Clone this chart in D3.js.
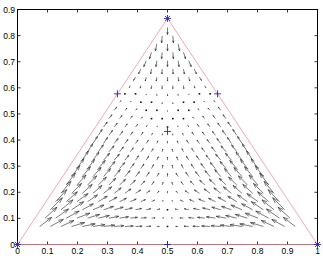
<!DOCTYPE html>
<html>
<head>
<meta charset="utf-8">
<script src="https://cdn.jsdelivr.net/npm/d3@7"></script>
<style>
  body { margin: 0; background: #fff; }
  svg { display: block; }
  text { font-family: "Liberation Sans", Arial, sans-serif; font-size: 8.5px; fill: #000; }
</style>
</head>
<body>
<svg id="chart" width="323" height="268"></svg>
<script>
// ticks
const xTicks = [0, 0.1, 0.2, 0.3, 0.4, 0.5, 0.6, 0.7, 0.8, 0.9, 1];
const yTicks = [0, 0.1, 0.2, 0.3, 0.4, 0.5, 0.6, 0.7, 0.8, 0.9];

// simplex outline and marked rest points
const simplex = [[0, 0], [1, 0], [0.5, 0.866]];
const restPoints = [[0, 0], [1, 0], [0.5, 0.866], [0.5, 0], [0.333, 0.577], [0.667, 0.577], [0.5, 0.433]];
const vertexPoints = [[0, 0], [1, 0], [0.5, 0.866]];

// quiver grid: one row per y, points centred on x = 0.5
const rowY = [0.069, 0.101, 0.133, 0.164, 0.196, 0.228, 0.260, 0.291, 0.323, 0.355, 0.387, 0.418, 0.450,
              0.482, 0.514, 0.545, 0.577, 0.609, 0.641, 0.672, 0.704, 0.736, 0.768, 0.799, 0.831];
const rowCount = [25, 24, 23, 22, 21, 20, 19, 18, 17, 16, 15, 14, 13, 12, 11, 10, 9, 8, 7, 6, 5, 4, 3, 2, 1];
const colStep = 0.0355;

// arrows (u, v) in hundredths, left half of each row up to the centre; right half is the mirror image
const rowVectors = [
  [[4.0,3.5],[4.3,2.7],[4.3,2.3],[4.3,1.5],[4.3,1.0],[4.0,0.7],[3.7,0.5],[3.2,0.3],[2.8,0.2],[2.2,0.1],[1.6,0.1],[0.8,0],[0,0]],
  [[4.0,4.2],[4.3,3.5],[4.3,2.7],[4.3,1.9],[4.0,1.4],[3.7,1.0],[3.3,0.7],[3.0,0.5],[2.4,0.3],[1.8,0.2],[1.2,0.1],[0.5,0.1]],
  [[4.0,4.6],[4.0,3.8],[4.0,3.1],[3.7,2.3],[3.7,1.8],[3.3,1.3],[3.0,1.0],[2.5,0.7],[2.0,0.5],[1.5,0.4],[1.0,0.3],[0,0.3]],
  [[3.7,4.6],[3.7,3.8],[3.7,3.1],[3.3,2.6],[3.0,2.1],[2.7,1.7],[2.3,1.3],[2.0,1.0],[1.5,0.8],[1.0,0.6],[0.3,0.5]],
  [[3.3,4.6],[3.3,3.8],[3.3,3.4],[3.0,3.0],[2.7,2.5],[2.3,2.1],[2.0,1.7],[1.7,1.3],[1.2,1.0],[0.7,0.8],[0,0.7]],
  [[3.0,4.6],[3.0,3.8],[3.0,3.5],[2.7,3.0],[2.3,2.6],[2.0,2.2],[1.7,1.8],[1.3,1.5],[0.8,1.2],[0.3,1.0]],
  [[2.7,4.2],[2.7,3.8],[2.7,3.5],[2.3,3.1],[2.0,2.7],[1.7,2.3],[1.3,1.9],[1.0,1.6],[0.7,1.3],[0,1.2]],
  [[2.3,3.8],[2.3,3.5],[2.3,3.1],[2.0,2.7],[1.7,2.3],[1.3,1.9],[1.0,1.7],[0.7,1.5],[0.2,1.3]],
  [[2.0,3.5],[2.0,3.1],[2.0,2.7],[1.7,2.3],[1.3,1.9],[1.0,1.7],[0.8,1.5],[0.5,1.3],[0,1.2]],
  [[1.7,3.1],[1.7,2.7],[1.7,2.3],[1.3,1.9],[1.0,1.5],[0.8,1.3],[0.5,1.2],[0.2,1.0]],
  [[1.5,2.7],[1.3,2.3],[1.3,1.9],[1.0,1.5],[0.8,1.3],[0.7,1.2],[0.3,1.0],[0,0.8]],
  [[1.3,2.3],[1.2,1.9],[1.0,1.5],[0.8,1.3],[0.7,1.2],[0.3,0.8],[0.1,0.6]],
  [[1.2,1.9],[1.0,1.5],[0.8,1.2],[0.7,1.0],[0.3,0.6],[0.2,0.4],[0,0.1]],
  [[1.0,1.5],[0.8,1.2],[0.7,1.0],[0.5,0.6],[0.2,0.2],[0,-0.2]],
  [[0.8,1.2],[0.7,0.8],[0.5,0.6],[0.2,0.2],[0,-0.2],[0,-0.4]],
  [[0.5,0.6],[0.3,0.4],[0.1,0],[-0.1,-0.3],[0,-0.6]],
  [[0.1,0],[0,-0.2],[0,-0.4],[0,-0.6],[0,-0.8]],
  [[-0.3,-0.8],[-0.2,-1.0],[-0.1,-1.2],[0,-1.2]],
  [[-0.7,-1.3],[-0.3,-1.5],[-0.2,-1.5],[0,-1.5]],
  [[-0.8,-1.9],[-0.3,-1.9],[-0.1,-1.9]],
  [[-0.8,-2.3],[-0.3,-2.3],[0,-2.3]],
  [[-0.7,-2.5],[-0.2,-2.5]],
  [[-0.5,-2.7],[0,-2.7]],
  [[-0.2,-2.7]],
  [[0,-2.7]]
];

const width = 323, height = 268;
const margin = {top: 9.5, right: 5.5, bottom: 23.5, left: 17.5};

const svg = d3.select("#chart");
const x = d3.scaleLinear().domain([0, 1]).range([margin.left, width - margin.right]);
const y = d3.scaleLinear().domain([0, 0.9]).range([height - margin.bottom, margin.top]);

// build arrow list
const arrows = [];
rowY.forEach((yy, r) => {
  const n = rowCount[r];
  for (let j = 0; j < n; j++) {
    const xx = 0.5 + (j - (n - 1) / 2) * colStep;
    const left = j < Math.ceil(n / 2);
    const vec = rowVectors[r][left ? j : n - 1 - j];
    arrows.push({x: xx, y: yy, u: (left ? vec[0] : -vec[0]) / 100, v: vec[1] / 100});
  }
});

// axes box
svg.append("rect")
    .attr("x", x(0)).attr("y", y(0.9))
    .attr("width", x(1) - x(0)).attr("height", y(0) - y(0.9))
    .attr("fill", "none").attr("stroke", "#000").attr("stroke-width", 1);

const tickLen = 3;
const ticks = svg.append("g").attr("stroke", "#000").attr("stroke-width", 0.8);
xTicks.forEach(t => {
  ticks.append("line").attr("x1", x(t)).attr("x2", x(t)).attr("y1", y(0)).attr("y2", y(0) - tickLen);
  ticks.append("line").attr("x1", x(t)).attr("x2", x(t)).attr("y1", y(0.9)).attr("y2", y(0.9) + tickLen);
});
yTicks.forEach(t => {
  ticks.append("line").attr("x1", x(0)).attr("x2", x(0) + tickLen).attr("y1", y(t)).attr("y2", y(t));
  ticks.append("line").attr("x1", x(1)).attr("x2", x(1) - tickLen).attr("y1", y(t)).attr("y2", y(t));
});

svg.append("g").selectAll("text")
  .data(xTicks).join("text")
    .attr("x", d => x(d)).attr("y", y(0) + 9.5)
    .attr("text-anchor", "middle")
    .text(d => d3.format("~g")(d));

svg.append("g").selectAll("text")
  .data(yTicks).join("text")
    .attr("x", x(0) - 2.5).attr("y", d => y(d) + 3)
    .attr("text-anchor", "end")
    .text(d => d3.format("~g")(d));

// simplex edges
svg.append("path")
    .attr("d", d3.line().x(d => x(d[0])).y(d => y(d[1]))(simplex.concat([simplex[0]])))
    .attr("fill", "none").attr("stroke", "#f2909f").attr("stroke-width", 0.8);

// quiver
const q = svg.append("g").attr("stroke", "#333").attr("stroke-width", 0.65).attr("fill", "none");
arrows.forEach(a => {
  const x0 = x(a.x), y0 = y(a.y);
  const x1 = x(a.x + a.u), y1 = y(a.y + a.v);
  const dx = x1 - x0, dy = y1 - y0;
  const len = Math.hypot(dx, dy);
  if (len < 1) {
    q.append("rect").attr("x", x0 - 0.8).attr("y", y0 - 0.8).attr("width", 1.6).attr("height", 1.6)
      .attr("fill", "#111").attr("stroke", "none");
    return;
  }
  const alpha = 0.33, beta = 0.33;
  const hx1 = x1 - alpha * (dx + beta * dy), hy1 = y1 - alpha * (dy - beta * dx);
  const hx2 = x1 - alpha * (dx - beta * dy), hy2 = y1 - alpha * (dy + beta * dx);
  q.append("path").attr("d", `M${x0},${y0}L${x1},${y1}M${hx1},${hy1}L${x1},${y1}L${hx2},${hy2}`);
});

// rest point markers
const mk = svg.append("g").attr("stroke", "#2020d8").attr("stroke-width", 0.9);
restPoints.forEach(p => {
  const cx = x(p[0]), cy = y(p[1]);
  mk.append("path").attr("d", `M${cx - 3.5},${cy}H${cx + 3.5}M${cx},${cy - 3.5}V${cy + 3.5}`);
});
vertexPoints.forEach(p => {
  const cx = x(p[0]), cy = y(p[1]);
  mk.append("path").attr("d", `M${cx - 2.5},${cy - 2.5}L${cx + 2.5},${cy + 2.5}M${cx - 2.5},${cy + 2.5}L${cx + 2.5},${cy - 2.5}`);
});
</script>
</body>
</html>
